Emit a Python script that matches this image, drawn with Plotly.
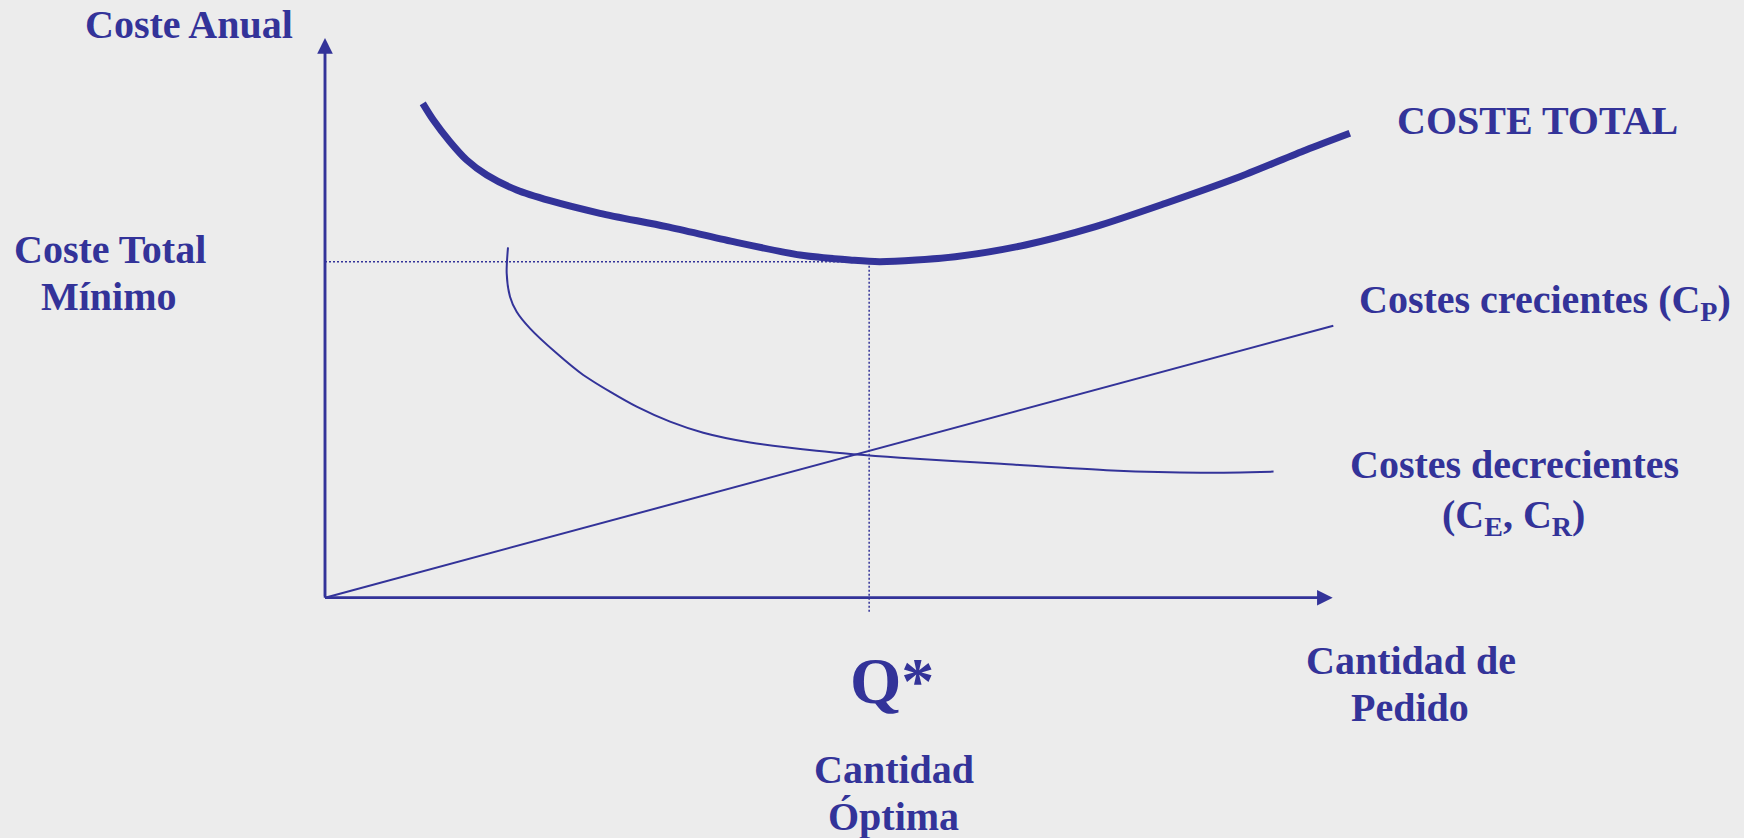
import plotly.graph_objects as go

# ---------------- data (abstract units: Q on x, annual cost on y) ----------------
q_total = [9.70, 10.75, 12.40, 14.06, 16.05, 19.02, 22.33, 27.29, 33.91, 40.52,
           47.14, 52.10, 55.08, 62.54, 69.50, 76.46, 83.43, 90.38, 97.35, 101.70]
coste_total = [88.33, 85.35, 81.47, 78.20, 75.52, 72.84, 70.93, 68.68, 66.29, 63.61,
               61.23, 60.34, 60.03, 60.93, 63.02, 66.29, 70.47, 74.93, 79.99, 82.97]

q_decr = [18.16, 18.03, 18.36, 19.02, 20.34, 22.99, 25.63, 28.28, 30.93, 34.24,
          37.54, 42.18, 48.78, 57.06, 67.08, 78.10, 86.93, 94.13]
coste_decr = [62.60, 57.96, 53.78, 51.10, 48.13, 43.67, 39.79, 36.81, 34.13, 31.45,
              29.48, 27.73, 26.26, 25.01, 23.92, 22.73, 22.33, 22.53]

q_crec = [0.0, 100.06]
coste_crec = [0.0, 48.60]

q_optima = 54.0
coste_minimo = 60.03
q_axis_end = 100.0
coste_axis_end = 100.0
q_axis_low = -2.79

# ---------------- style ----------------
BLUE = "#333399"
BG = "#ececec"
FONT = "Liberation Serif, Times New Roman, serif"
W, H = 1744, 838

fig = go.Figure()

# dotted guide lines
fig.add_trace(go.Scatter(x=[0, q_optima], y=[coste_minimo, coste_minimo], mode="lines",
                         line=dict(color=BLUE, width=1.5, dash="2px,2px"), hoverinfo="skip"))
fig.add_trace(go.Scatter(x=[q_optima, q_optima], y=[coste_minimo, q_axis_low], mode="lines",
                         line=dict(color=BLUE, width=1.5, dash="2px,2px"), hoverinfo="skip"))

# axes lines
fig.add_trace(go.Scatter(x=[0, q_axis_end - 1.2], y=[0, 0], mode="lines",
                         line=dict(color=BLUE, width=2.5), hoverinfo="skip"))
fig.add_trace(go.Scatter(x=[0, 0], y=[0, coste_axis_end - 2.2], mode="lines",
                         line=dict(color=BLUE, width=2.5), hoverinfo="skip"))

# cost curves
fig.add_trace(go.Scatter(x=q_crec, y=coste_crec, mode="lines",
                         line=dict(color=BLUE, width=2), hoverinfo="skip"))
fig.add_trace(go.Scatter(x=q_decr, y=coste_decr, mode="lines",
                         line=dict(color=BLUE, width=2, shape="spline", smoothing=0.8), hoverinfo="skip"))
fig.add_trace(go.Scatter(x=q_total, y=coste_total, mode="lines",
                         line=dict(color=BLUE, width=7, shape="spline", smoothing=0.8), hoverinfo="skip"))

annotations = []
# axis arrowheads
annotations.append(dict(x=q_axis_end, y=0, ax=0, ay=0, xref="x", yref="y", axref="x", ayref="y",
                        text="", showarrow=True, arrowhead=2, arrowwidth=2.5, arrowsize=1.25,
                        arrowcolor=BLUE))
annotations.append(dict(x=0, y=coste_axis_end, ax=0, ay=0, xref="x", yref="y", axref="x", ayref="y",
                        text="", showarrow=True, arrowhead=2, arrowwidth=2.5, arrowsize=1.25,
                        arrowcolor=BLUE))


def label(text, px, py, size=40):
    annotations.append(dict(text=text, x=px / W, y=1 - py / H, xref="paper", yref="paper",
                            xanchor="center", yanchor="middle", showarrow=False,
                            font=dict(family=FONT, size=size, color=BLUE, weight="bold")))


label("Coste Anual", 189, 24.2)
label("Coste Total", 109.6, 249.2)
label("Mínimo", 109.0, 296.7)
label("COSTE TOTAL", 1537, 120.9)
label("Costes crecientes (C<sub>P</sub>)", 1545, 301.5)
label("Costes decrecientes", 1514.5, 464.2)
label("(C<sub>E</sub>, C<sub>R</sub>)", 1513.7, 517.0)
label("Q*", 892, 680.9, size=66)
label("Cantidad de", 1410.6, 660.9)
label("Pedido", 1410.0, 707.7)
label("Cantidad", 893.8, 769.2)
label("Óptima", 893.5, 816.7)

x0 = -325 / 10.077
x1 = (W - 325) / 10.077
y0 = (597.7 - H) / 5.597
y1 = 597.7 / 5.597

fig.update_layout(
    width=W, height=H, autosize=False,
    margin=dict(l=0, r=0, t=0, b=0, pad=0),
    paper_bgcolor=BG, plot_bgcolor=BG,
    showlegend=False,
    xaxis=dict(range=[x0, x1], visible=False, fixedrange=True),
    yaxis=dict(range=[y0, y1], visible=False, fixedrange=True),
    annotations=annotations,
)

fig.write_html("out.html", config={"displayModeBar": False},
               post_script="document.body.style.margin='0';document.body.style.overflow='hidden';")
